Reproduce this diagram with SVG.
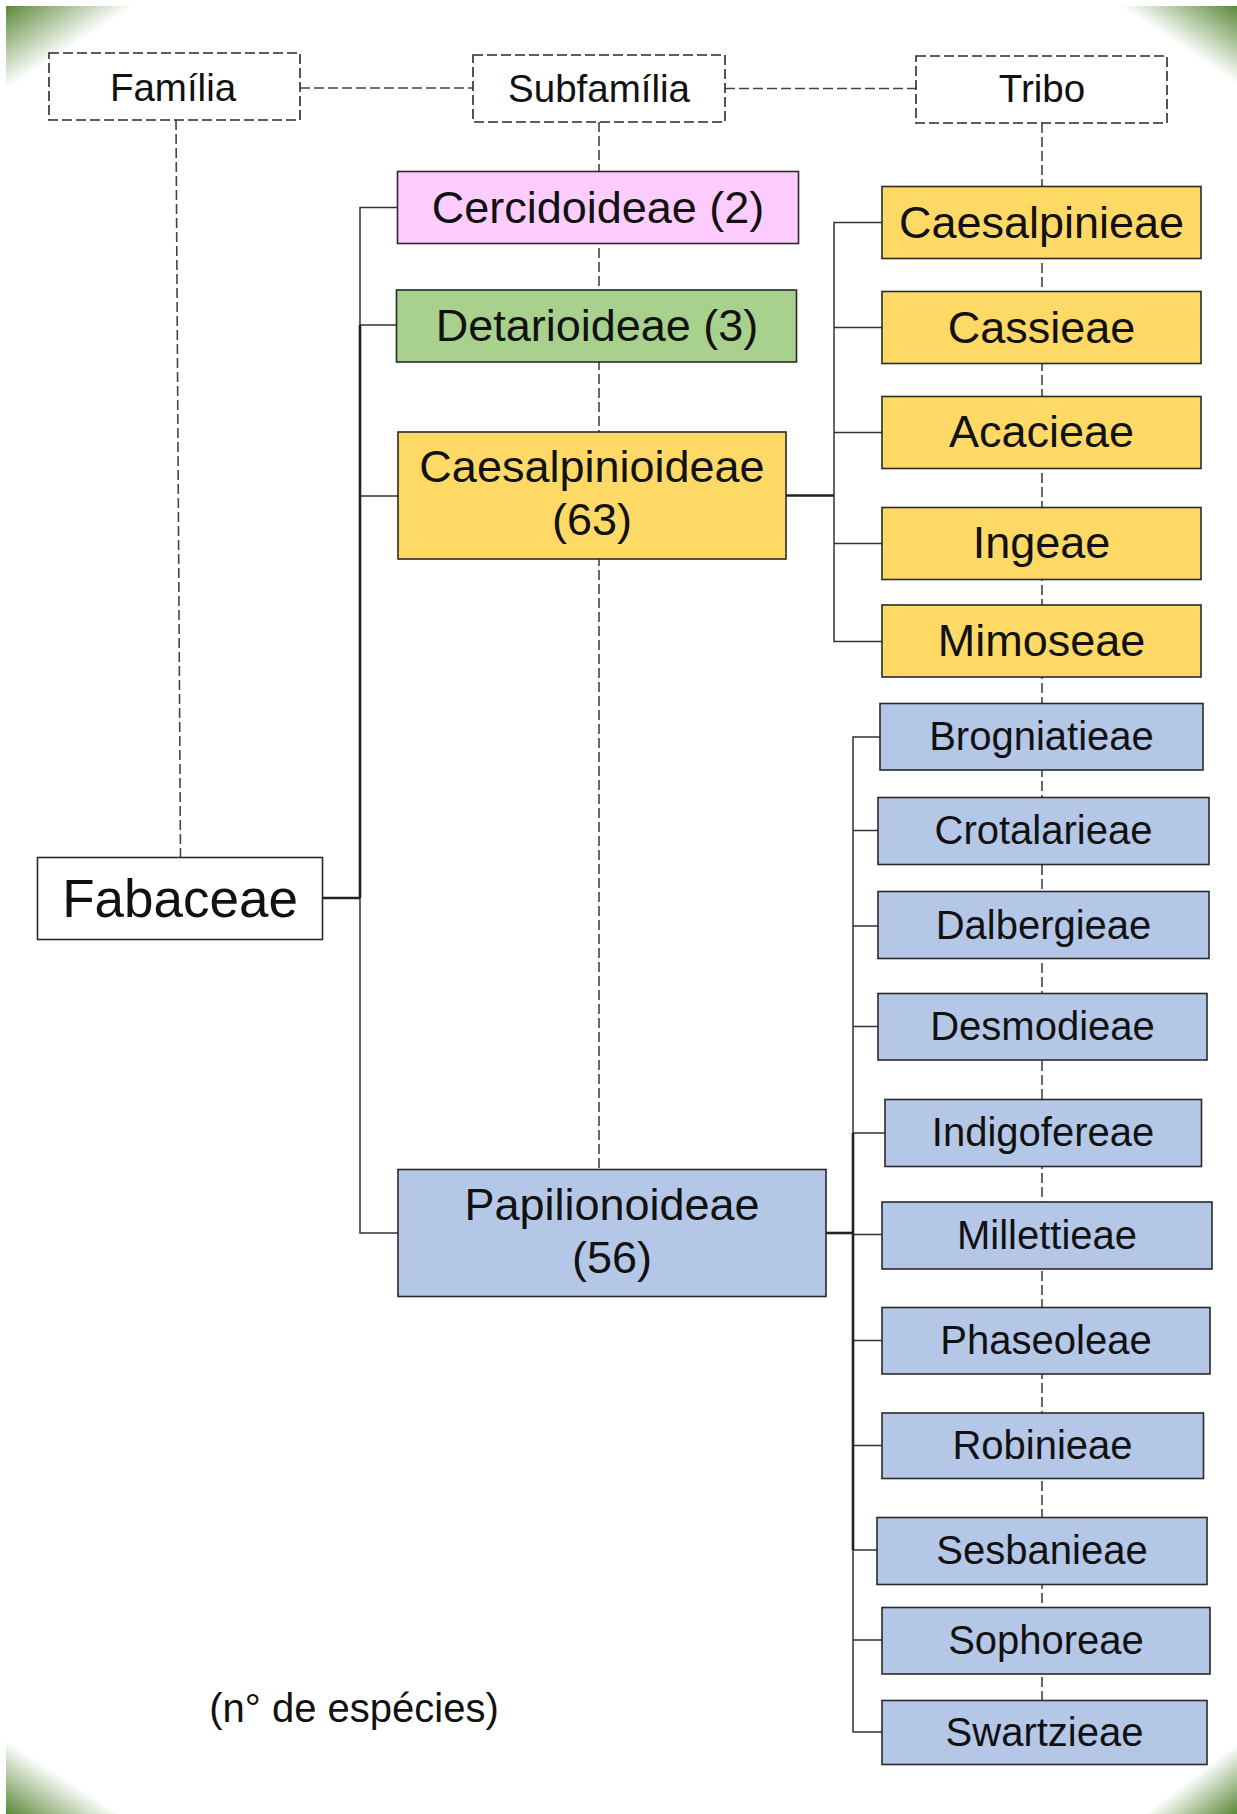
<svg xmlns="http://www.w3.org/2000/svg" width="1237" height="1814" viewBox="0 0 1237 1814">
  <defs>
    <linearGradient id="gTL" x1="0" y1="0" x2="0.5" y2="0.5">
      <stop offset="0" stop-color="#5a893a"/>
      <stop offset="1" stop-color="#5a893a" stop-opacity="0"/>
    </linearGradient>
    <linearGradient id="gTR" x1="1" y1="0" x2="0.5" y2="0.5">
      <stop offset="0" stop-color="#5a893a"/>
      <stop offset="1" stop-color="#5a893a" stop-opacity="0"/>
    </linearGradient>
    <linearGradient id="gBL" x1="0" y1="1" x2="0.5" y2="0.5">
      <stop offset="0" stop-color="#5a893a"/>
      <stop offset="1" stop-color="#5a893a" stop-opacity="0"/>
    </linearGradient>
    <linearGradient id="gBR" x1="1" y1="1" x2="0.5" y2="0.5">
      <stop offset="0" stop-color="#5a893a"/>
      <stop offset="1" stop-color="#5a893a" stop-opacity="0"/>
    </linearGradient>
  </defs>
  <style>
    text { font-family: "Liberation Sans", Arial, sans-serif; fill: #111; text-anchor: middle; }
    .hdr rect { fill: #fff; stroke: #2a2a2a; stroke-width: 1.6; stroke-dasharray: 10 4; }
    .hdr text { font-size: 38.5px; }
    .box rect { stroke: #2a2a2a; stroke-width: 1.6; }
    .sub text { font-size: 45px; }
    .trY text { font-size: 45px; }
    .trB text { font-size: 40px; }
    .pink rect { fill: #ffccff; }
    .green rect { fill: #a9d18e; }
    .yellow rect { fill: #ffd966; }
    .blue rect { fill: #b4c7e7; }
    .dash { fill: none; stroke: #444; stroke-width: 1.6; stroke-dasharray: 10 4; }
    .line { fill: none; stroke: #333; stroke-width: 1.5; }
    .thick { fill: none; stroke: #222; stroke-width: 2.6; }
  </style>

  <rect width="1237" height="1814" fill="#fff"/>

  <!-- corner ornaments -->
  <g id="corners">
    <polygon points="6,6 135,6 6,90" fill="url(#gTL)"/>
    <polygon points="1119,6 1237,6 1237,84" fill="url(#gTR)"/>
    <polygon points="6,1740 6,1814 121,1814" fill="url(#gBL)"/>
    <polygon points="1237,1743 1237,1814 1144,1814" fill="url(#gBR)"/>
  </g>

  <!-- connectors -->
  <g id="connectors">
    <!-- rank guide lines -->
    <path class="dash" d="M300,88 H473"/>
    <path class="dash" d="M725,88.5 H916"/>
    <path class="dash" d="M176,120 L180.5,857.5"/>
    <path class="dash" d="M599,122 V1169.5"/>
    <path class="dash" d="M1042,123 V1700.5"/>

    <!-- family to subfamilies -->
    <path class="line" d="M397.5,207.5 H360 V1233 H398"/>
    <path class="line" d="M360,325 H396.5"/>
    <path class="line" d="M360,496 H398"/>
    <path class="thick" d="M360,325 V898"/>
    <path class="thick" d="M322.5,898 H360"/>

    <!-- Caesalpinioideae to tribes -->
    <path class="line" d="M882,222.5 H834 V641.5 H882"/>
    <path class="line" d="M834,327.5 H882"/>
    <path class="line" d="M834,432.5 H882"/>
    <path class="line" d="M834,543.5 H882"/>
    <path class="thick" d="M786,495.5 H834"/>

    <!-- Papilionoideae to tribes -->
    <path class="line" d="M880,737 H853 V1732 H882"/>
    <path class="line" d="M853,830.5 H878"/>
    <path class="line" d="M853,926 H878"/>
    <path class="line" d="M853,1026.5 H878"/>
    <path class="line" d="M853,1133 H885"/>
    <path class="line" d="M853,1234.5 H882"/>
    <path class="line" d="M853,1340.5 H882"/>
    <path class="line" d="M853,1445.5 H882"/>
    <path class="line" d="M853,1550 H877"/>
    <path class="line" d="M853,1640 H882"/>
    <path class="thick" d="M853,1133 V1550"/>
    <path class="thick" d="M826,1233 H853"/>
  </g>

  <!-- rank headers -->
  <g id="hdr-familia" class="hdr">
    <rect x="49" y="53" width="251" height="67"/>
    <text x="173" y="101">Família</text>
  </g>
  <g id="hdr-subfamilia" class="hdr">
    <rect x="473" y="55" width="252" height="67"/>
    <text x="599" y="102">Subfamília</text>
  </g>
  <g id="hdr-tribo" class="hdr">
    <rect x="916" y="56" width="251" height="67"/>
    <text x="1042" y="102">Tribo</text>
  </g>

  <!-- family -->
  <g id="fabaceae" class="box">
    <rect x="37.5" y="857.5" width="285" height="82" fill="#fff"/>
    <text x="180" y="917" style="font-size:53px">Fabaceae</text>
  </g>

  <!-- subfamilies -->
  <g id="cercidoideae" class="box sub pink">
    <rect x="397.5" y="171.5" width="401" height="72"/>
    <text x="598" y="222.5">Cercidoideae (2)</text>
  </g>
  <g id="detarioideae" class="box sub green">
    <rect x="396.5" y="290" width="400" height="72"/>
    <text x="597" y="341">Detarioideae (3)</text>
  </g>
  <g id="caesalpinioideae" class="box sub yellow">
    <rect x="398" y="432" width="388" height="127"/>
    <text x="592" y="482">Caesalpinioideae</text>
    <text x="592" y="535">(63)</text>
  </g>
  <g id="papilionoideae" class="box sub blue">
    <rect x="398" y="1169.5" width="428" height="127"/>
    <text x="612" y="1220">Papilionoideae</text>
    <text x="612" y="1273">(56)</text>
  </g>

  <!-- Caesalpinioideae tribes -->
  <g id="caesalpinieae" class="box trY yellow">
    <rect x="882" y="186.5" width="319" height="72"/>
    <text x="1041.5" y="238">Caesalpinieae</text>
  </g>
  <g id="cassieae" class="box trY yellow">
    <rect x="882" y="291.5" width="319" height="72"/>
    <text x="1041.5" y="342.5">Cassieae</text>
  </g>
  <g id="acacieae" class="box trY yellow">
    <rect x="882" y="396.5" width="319" height="72"/>
    <text x="1041.5" y="447">Acacieae</text>
  </g>
  <g id="ingeae" class="box trY yellow">
    <rect x="882" y="507.5" width="319" height="72"/>
    <text x="1041.5" y="558">Ingeae</text>
  </g>
  <g id="mimoseae" class="box trY yellow">
    <rect x="882" y="605" width="319" height="72"/>
    <text x="1041.5" y="656">Mimoseae</text>
  </g>

  <!-- Papilionoideae tribes -->
  <g id="brogniatieae" class="box trB blue">
    <rect x="880" y="703.5" width="323" height="66.5"/>
    <text x="1041.5" y="750">Brogniatieae</text>
  </g>
  <g id="crotalarieae" class="box trB blue">
    <rect x="878" y="797.5" width="331" height="67"/>
    <text x="1043.5" y="844">Crotalarieae</text>
  </g>
  <g id="dalbergieae" class="box trB blue">
    <rect x="878" y="891.5" width="331" height="67"/>
    <text x="1043.5" y="938.5">Dalbergieae</text>
  </g>
  <g id="desmodieae" class="box trB blue">
    <rect x="878" y="993.5" width="329" height="66.5"/>
    <text x="1042.5" y="1040">Desmodieae</text>
  </g>
  <g id="indigofereae" class="box trB blue">
    <rect x="885" y="1099.5" width="316.5" height="67"/>
    <text x="1043" y="1146">Indigofereae</text>
  </g>
  <g id="millettieae" class="box trB blue">
    <rect x="882" y="1202" width="330" height="67"/>
    <text x="1047" y="1248.5">Millettieae</text>
  </g>
  <g id="phaseoleae" class="box trB blue">
    <rect x="882" y="1307.5" width="328" height="66.5"/>
    <text x="1046" y="1354">Phaseoleae</text>
  </g>
  <g id="robinieae" class="box trB blue">
    <rect x="882" y="1413" width="321.5" height="65.5"/>
    <text x="1042.5" y="1459">Robinieae</text>
  </g>
  <g id="sesbanieae" class="box trB blue">
    <rect x="877" y="1517.5" width="330" height="67"/>
    <text x="1042" y="1564">Sesbanieae</text>
  </g>
  <g id="sophoreae" class="box trB blue">
    <rect x="882" y="1607.5" width="328" height="66.5"/>
    <text x="1046" y="1654">Sophoreae</text>
  </g>
  <g id="swartzieae" class="box trB blue">
    <rect x="882" y="1700.5" width="325" height="64"/>
    <text x="1044.5" y="1746">Swartzieae</text>
  </g>

  <!-- legend -->
  <g id="legend">
    <text x="354" y="1721.5" style="font-size:40px">(n° de espécies)</text>
  </g>
</svg>
